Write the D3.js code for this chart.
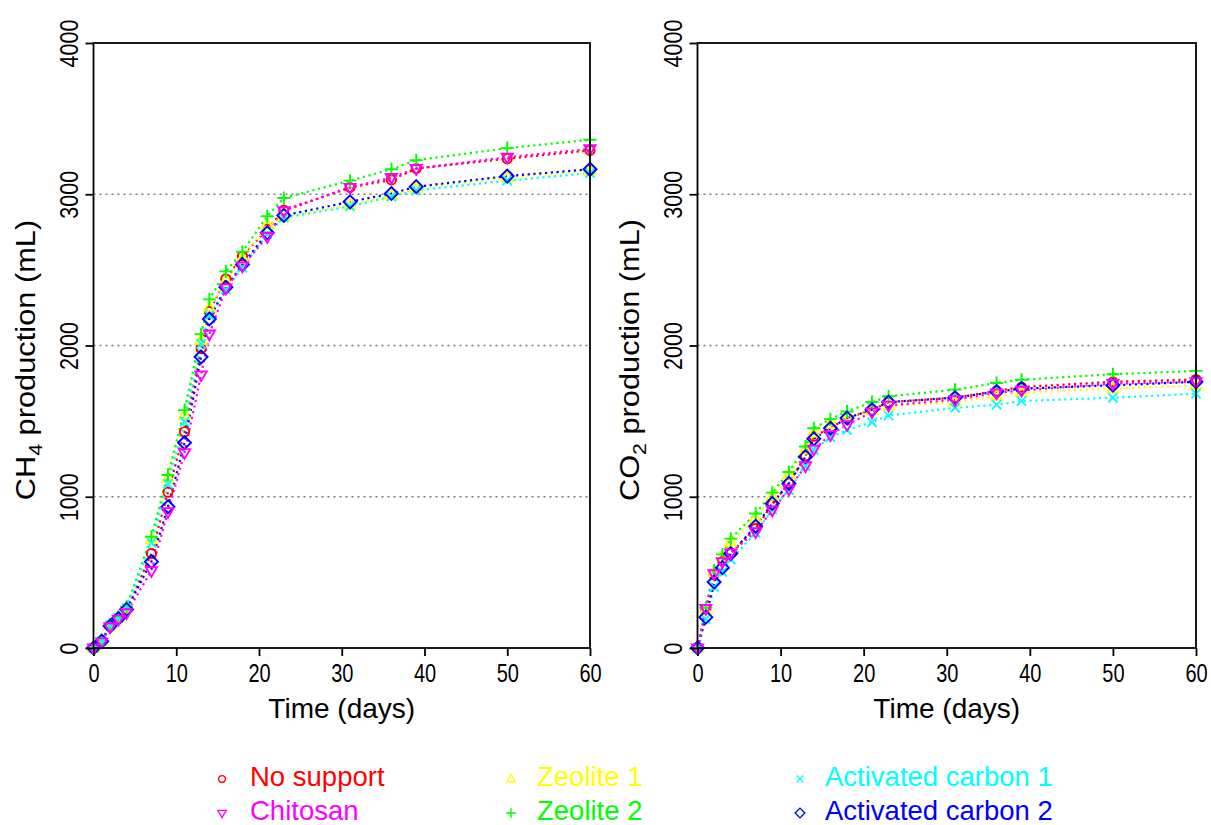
<!DOCTYPE html>
<html><head><meta charset="utf-8">
<script src="https://cdn.jsdelivr.net/npm/d3@7"></script>
<style>body{margin:0;background:#fff} text{font-family:"Liberation Sans",Arial,sans-serif}</style>
</head><body><svg id="c" width="1211" height="825"></svg>
<script>
// ---------- data ----------
const time = [0,1,2,3,4,7,9,11,13,14,16,18,21,23,31,36,39,50,60];
const seriesNames  = ["No support","Chitosan","Zeolite 1","Zeolite 2","Activated carbon 1","Activated carbon 2"];
const seriesColors = ["#ff0000","#ff00ff","#ffff00","#00ff00","#00ffff","#0000ff"];
const seriesShapes = ["circle","tridown","triup","plus","cross","diamond"];
// CH4 production (mL)
const ch4NoSupport = [0,45,145,195,250,625,1030,1430,1980,2225,2440,2590,2770,2895,3045,3095,3170,3235,3290];
const ch4Chitosan  = [0,40,140,190,232,511,901,1291,1805,2075,2380,2525,2720,2890,3045,3110,3170,3245,3300];
const ch4Zeolite1  = [0,48,150,200,262,716,1122,1540,2035,2250,2425,2575,2795,2850,2930,2990,3040,3110,3155];
const ch4Zeolite2  = [0,50,155,205,273,736,1144,1573,2075,2305,2490,2620,2855,2975,3090,3165,3225,3305,3360];
const ch4AC1       = [0,45,150,200,265,694,1084,1496,2010,2200,2370,2515,2735,2845,2920,2985,3025,3090,3140];
const ch4AC2       = [0,45,145,195,255,571,934,1357,1925,2175,2385,2535,2745,2860,2950,3005,3050,3120,3165];
// CO2 production (mL)
const co2NoSupport = [0,255,485,580,630,790,950,1090,1270,1400,1455,1520,1575,1625,1655,1700,1725,1760,1775];
const co2Chitosan  = [0,260,490,570,628,768,912,1051,1204,1314,1409,1476,1560,1604,1641,1686,1703,1748,1760];
const co2Zeolite1  = [0,250,500,600,700,856,1004,1144,1310,1420,1480,1530,1570,1600,1625,1665,1690,1714,1737];
const co2Zeolite2  = [0,265,513,619,723,889,1027,1164,1332,1453,1513,1564,1626,1664,1708,1752,1774,1810,1832];
const co2AC1       = [0,192,403,502,584,761,916,1044,1204,1310,1394,1442,1493,1537,1588,1608,1633,1655,1681];
const co2AC2       = [0,204,436,531,624,805,956,1088,1265,1383,1453,1520,1575,1626,1655,1695,1715,1737,1760];
const xTicks = [0,10,20,30,40,50,60];
const yTicks = [0,1000,2000,3000,4000];
const gridValues = [1000,2000,3000];

// ---------- drawing ----------
const svg = d3.select("#c");
const drawOrder = [0,2,3,4,5,1];

function shapePath(shape){
  switch(shape){
    case "circle": return "M4.6,0A4.6,4.6 0 1,1 -4.6,0A4.6,4.6 0 1,1 4.6,0Z";
    case "tridown": return "M-5.6,-3.6L5.6,-3.6L0,6.2Z";
    case "triup": return "M-5.6,3.6L5.6,3.6L0,-6.2Z";
    case "plus": return "M-6.5,0L6.5,0M0,-6.5L0,6.5";
    case "cross": return "M-4.6,-4.6L4.6,4.6M-4.6,4.6L4.6,-4.6";
    case "diamond": return "M0,-6.5L6.5,0L0,6.5L-6.5,0Z";
  }
}

const panels = [
  {x0:93.5, x1:590, main:"CH", sub:"4", data:[ch4NoSupport,ch4Chitosan,ch4Zeolite1,ch4Zeolite2,ch4AC1,ch4AC2]},
  {x0:697.5, x1:1196, main:"CO", sub:"2", data:[co2NoSupport,co2Chitosan,co2Zeolite1,co2Zeolite2,co2AC1,co2AC2]}
];
const yTop = 43, yBot = 648;

panels.forEach(p=>{
  const x = d3.scaleLinear().domain([0,60]).range([p.x0,p.x1]);
  const y = d3.scaleLinear().domain([0,4000]).range([yBot,yTop]);
  const g = svg.append("g");
  // grid
  g.selectAll("line.grid").data(gridValues).join("line")
    .attr("x1",p.x0).attr("x2",p.x1).attr("y1",d=>y(d)).attr("y2",d=>y(d))
    .attr("stroke","#7a7a7a").attr("stroke-width",1.6).attr("stroke-dasharray","2,4");
  // series lines
  const line = d3.line().x((d,i)=>x(time[i])).y(d=>y(d));
  drawOrder.forEach(k=>{
    g.append("path").datum(p.data[k]).attr("d",line).attr("fill","none")
      .attr("stroke",seriesColors[k]).attr("stroke-width",2.2).attr("stroke-dasharray","2.2,3.6");
  });
  drawOrder.forEach(k=>{
    g.selectAll(null).data(p.data[k]).join("path")
      .attr("transform",(d,i)=>`translate(${x(time[i])},${y(d)})`)
      .attr("d",shapePath(seriesShapes[k])).attr("fill","none")
      .attr("stroke",seriesColors[k]).attr("stroke-width",1.9);
  });
  // frame
  g.append("rect").attr("x",p.x0).attr("y",yTop).attr("width",p.x1-p.x0).attr("height",yBot-yTop)
    .attr("fill","none").attr("stroke","#000").attr("stroke-width",1.8);
  // axes
  const ax = g.append("g").attr("transform",`translate(0,${yBot})`)
    .call(d3.axisBottom(x).tickValues(xTicks).tickFormat(d3.format("d")).tickSize(8).tickSizeOuter(0));
  const ay = g.append("g").attr("transform",`translate(${p.x0},0)`)
    .call(d3.axisLeft(y).tickValues(yTicks).tickFormat(d3.format("d")).tickSize(8).tickSizeOuter(0));
  [ax,ay].forEach(a=>{ a.select(".domain").remove(); a.selectAll("line").attr("stroke","#000").attr("stroke-width",1.8); });
  ax.selectAll("text").attr("y",null).attr("dy",null).attr("fill","#000")
    .attr("font-size",25).attr("text-anchor","middle")
    .attr("transform","translate(0,34) scale(0.8,1)");
  ay.selectAll("text").attr("x",null).attr("dy",null).attr("fill","#000")
    .attr("font-size",25).attr("text-anchor","middle")
    .attr("transform","translate(-16,0) rotate(-90) scale(0.86,1)");
  // x title
  g.append("text").attr("x",(p.x0+p.x1)/2).attr("y",718).attr("text-anchor","middle")
    .attr("font-size",28).text("Time (days)");
  // y title
  const t = g.append("text").attr("transform",`translate(${p.x0-59},360) rotate(-90) scale(1.12,1)`)
    .attr("text-anchor","middle").attr("font-size",27.5);
  t.append("tspan").text(p.main);
  t.append("tspan").attr("font-size",19).attr("dy",7).text(p.sub);
  t.append("tspan").attr("dy",-7).text(" production (mL)");
});

// legend
const legX = [222,511,800], legTX=[250,537,825], legMY=[779,813], legTY=[786,820];
const legPos = [[0,0],[0,1],[1,0],[1,1],[2,0],[2,1]];
seriesNames.forEach((name,k)=>{
  const [c,r] = legPos[k];
  svg.append("path").attr("transform",`translate(${legX[c]},${legMY[r]}) scale(0.75)`)
    .attr("d",shapePath(seriesShapes[k])).attr("fill","none")
    .attr("stroke",seriesColors[k]).attr("stroke-width",1.8);
  svg.append("text").attr("x",legTX[c]).attr("y",legTY[r]).attr("font-size",27.5)
    .attr("fill",seriesColors[k]).text(name);
});
</script></body></html>
